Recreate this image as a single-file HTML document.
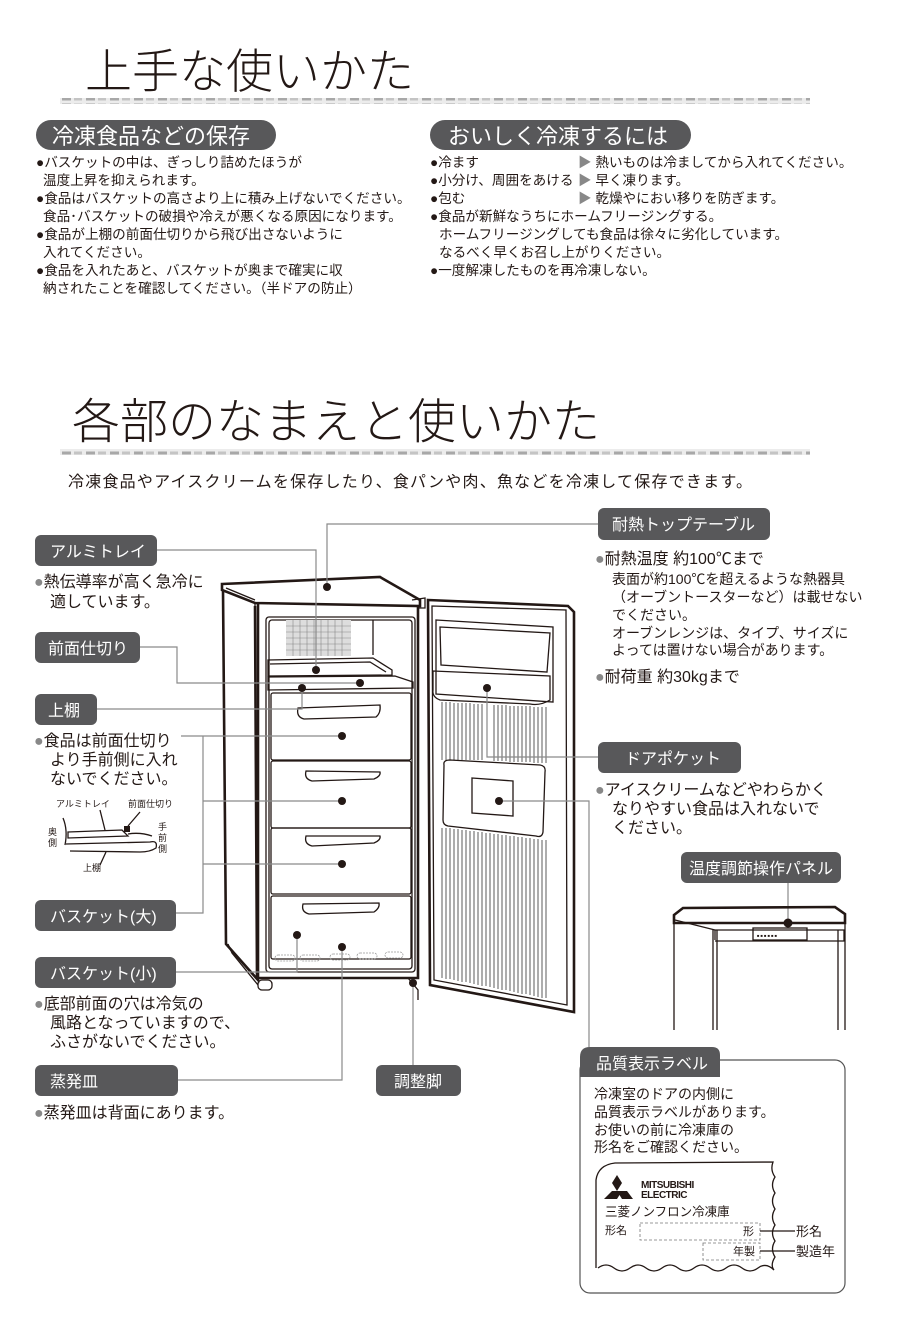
<!DOCTYPE html>
<html><head><meta charset="utf-8"><style>
html,body{margin:0;padding:0;background:#fff}
svg{display:block}
text{font-family:"Liberation Sans","Noto Sans CJK JP",sans-serif;fill:#231815}
.w{fill:#fff}
.p{fill:#58585a}
.ln{stroke:#8a8a8a;stroke-width:1.2;fill:none}
.k{stroke:#231815;fill:none;stroke-width:1.3}
.kb{stroke:#231815;fill:none;stroke-width:2.6}
</style></head><body>
<svg width="900" height="1331" viewBox="0 0 900 1331" xmlns="http://www.w3.org/2000/svg">
<defs>
<pattern id="dash" x="60" y="0" width="24" height="6" patternUnits="userSpaceOnUse">
<rect x="0" y="0" width="24" height="6" fill="#ececec"/><rect x="2" y="1.5" width="9" height="3" fill="#a8a8a8"/><rect x="14" y="1.5" width="8" height="3" fill="#c4c4c4"/></pattern>
</defs>

<!-- Title 1 -->
<text x="85" y="88" font-size="47" font-weight="300">上手な使いかた</text>
<rect x="60" y="98" width="750" height="6" fill="url(#dash)"/>

<rect x="36" y="120" width="240" height="30" rx="15" class="p"/>
<text x="52" y="144" font-size="22" class="w">冷凍食品などの保存</text>
<rect x="430" y="120" width="261" height="30" rx="15" class="p"/>
<text x="448" y="144" font-size="22" class="w">おいしく冷凍するには</text>

<g font-size="13.6">
<text x="36" y="167">●バスケットの中は、ぎっしり詰めたほうが</text>
<text x="43" y="185">温度上昇を抑えられます。</text>
<text x="36" y="203">●食品はバスケットの高さより上に積み上げないでください。</text>
<text x="43" y="221">食品･バスケットの破損や冷えが悪くなる原因になります。</text>
<text x="36" y="239">●食品が上棚の前面仕切りから飛び出さないように</text>
<text x="43" y="257">入れてください。</text>
<text x="36" y="275">●食品を入れたあと、バスケットが奥まで確実に収</text>
<text x="43" y="293">納されたことを確認してください。（半ドアの防止）</text>

<text x="430" y="167">●冷ます</text>
<text x="578" y="167"><tspan fill="#888">▶</tspan> 熱いものは冷ましてから入れてください。</text>
<text x="430" y="185">●小分け、周囲をあける</text>
<text x="578" y="185"><tspan fill="#888">▶</tspan> 早く凍ります。</text>
<text x="430" y="203">●包む</text>
<text x="578" y="203"><tspan fill="#888">▶</tspan> 乾燥やにおい移りを防ぎます。</text>
<text x="430" y="221">●食品が新鮮なうちにホームフリージングする。</text>
<text x="439" y="239">ホームフリージングしても食品は徐々に劣化しています。</text>
<text x="439" y="257">なるべく早くお召し上がりください。</text>
<text x="430" y="275">●一度解凍したものを再冷凍しない。</text>
</g>

<!-- Title 2 -->
<text x="72" y="438" font-size="48" font-weight="300">各部のなまえと使いかた</text>
<rect x="60" y="449" width="750" height="6" fill="url(#dash)"/>
<text x="68" y="487" font-size="16" textLength="684" lengthAdjust="spacing">冷凍食品やアイスクリームを保存したり、食パンや肉、魚などを冷凍して保存できます。</text>

<!-- FREEZER DRAWING -->
<g>
<path class="kb" d="M222,584 L380,577 L420,600 L420,606 L255,603 L222,590 Z" fill="#fff"/>
<path class="k" d="M226,588 L255,600 M255,603 L255,608"/>
<path class="kb" d="M223,590 L226,944 L258,980 L258,603"/>
<path class="kb" d="M255,606 L257,978 L418,978 L418,606"/>
<path class="k" d="M228,944 L232,953 L258,985"/>
<rect x="258" y="980" width="14" height="10" rx="4" class="k" fill="#fff"/>
<rect x="266" y="617" width="149" height="355" rx="3" class="k"/>
<rect x="269" y="620" width="143" height="349" rx="3" class="k" stroke-width="0.8"/>
<rect x="286" y="620" width="65" height="36" fill="#ddd"/>
<g stroke="#888" stroke-width="0.6">
<path d="M286,626H351M286,632H351M286,638H351M286,644H351M286,650H351"/>
<path d="M293,620V656M300,620V656M307,620V656M314,620V656M321,620V656M328,620V656M335,620V656M342,620V656"/>
</g>
<path class="k" d="M373,620 L373,655"/>
<path class="k" d="M268,660 L373,658 L392,670 L392,675 L268,676 Z"/>
<path class="k" d="M270,664 L370,662 L386,672"/>
<path class="k" d="M268,677 L395,676 L413,682 L413,688 L268,690 Z" fill="#fff"/>
<g class="k">
<rect x="271" y="693" width="140" height="67" rx="2"/>
<rect x="271" y="761" width="140" height="67" rx="2"/>
<rect x="271" y="828" width="140" height="66" rx="2"/>
<rect x="271" y="896" width="140" height="63" rx="2"/>
<path d="M298,708 Q296,717 304,719 L376,717 Q381,713 380,705 Z"/>
<path d="M306,771 Q304,779 312,781 L374,779 Q381,776 380,772 Z"/>
<path d="M306,836 Q304,844 312,846 L374,843 Q381,840 380,836 Z"/>
<path d="M303,904 Q301,912 309,914 L374,912 Q380,908 379,903 Z"/>
</g>
<g stroke="#999" stroke-width="0.8" fill="none" stroke-dasharray="2,1">
<rect x="275" y="955" width="20" height="6" rx="3"/><rect x="300" y="955" width="20" height="6" rx="3"/><rect x="330" y="954" width="20" height="6" rx="3"/><rect x="357" y="953" width="20" height="6" rx="3"/><rect x="385" y="952" width="18" height="6" rx="3"/>
</g>
<path class="k" d="M412,600 L425,598 L425,608 L418,608"/>
<path class="kb" d="M428,600 L568,606 L574,612 L574,1012 L430,985 Z" fill="#fff"/>
<path class="k" d="M432,606 L566,610 L567,1005 L434,980 Z"/>
<path class="k" d="M436,620 L553,627 L553,702 L436,694 Z"/>
<path class="k" d="M440,627 L550,633 L547,672 L441,665 Z"/>
<path class="k" d="M433,671 L550,676 L550,700 Q540,706 530,704 L440,700 Q432,697 433,690 Z" fill="#fff"/>
<g stroke="#333" stroke-width="0.8">
<path d="M442,702V760M446,702V760M450,702V760M454,703V760M458,703V760M462,703V760M466,703V760M470,703V760M474,704V760M478,704V760M482,704V760M494,705V761M498,705V761M502,705V761M506,705V761M510,706V762M514,706V762M518,706V762M522,706V762M526,706V762M530,706V762M534,707V763M538,707V763M542,707V763M546,707V763"/>
<path d="M442,828V978M446,828V979M450,828V979M454,829V980M458,829V981M462,830V982M466,830V982M470,831V983M474,831V984M478,832V985M482,832V986M486,833V986M490,833V987M494,834V988M498,834V989M502,835V990M506,835V990M510,836V991M514,836V992M518,837V993M522,837V994M526,838V994M530,838V995M534,839V996M538,839V997M542,840V998M546,840V998"/>
</g>
<path class="k" d="M444,765 Q443,760 450,760 L540,765 Q546,766 545,772 L543,832 Q542,838 536,836 L448,826 Q443,825 443,820 Z" fill="#fff"/>
<path class="k" d="M472,778 L513,781 L513,816 L472,813 Z" stroke-width="0.8"/>
<path class="k" d="M408,978 L418,990 L418,1000"/>
</g>

<g class="ln">
<path d="M157,550 H316 V670"/>
<path d="M598,524 H327 V587"/>
<path d="M140,647 H177 V683 H360"/>
<path d="M97,709 H302 V688"/>
<path d="M181,736 H203 V913 H176 M203,736 H342 M203,801 H342 M203,864 H342"/>
<path d="M176,972 H297 V935"/>
<path d="M178,1080 H342 V947"/>
<path d="M413,1065 V983"/>
<path d="M598,757 H487 V688"/>
<path d="M499,801 H589 V1047"/>
<path d="M788,883 V923"/>
</g>
<g fill="#231815">
<circle cx="316" cy="670" r="4"/><circle cx="360" cy="683" r="4"/><circle cx="302" cy="688" r="4"/><circle cx="327" cy="587" r="4"/>
<circle cx="342" cy="736" r="4"/><circle cx="342" cy="801" r="4"/><circle cx="342" cy="864" r="4"/>
<circle cx="297" cy="935" r="4"/><circle cx="342" cy="947" r="4"/><circle cx="413" cy="983" r="4"/>
<circle cx="487" cy="688" r="4"/><circle cx="499" cy="801" r="4"/><circle cx="788" cy="923" r="4.5"/>
</g>

<g font-size="16">
<rect x="35" y="535" width="122" height="31" rx="6" class="p"/><text x="50" y="557" class="w">アルミトレイ</text>
<rect x="35" y="632" width="105" height="31" rx="6" class="p"/><text x="48" y="654" class="w">前面仕切り</text>
<rect x="35" y="694" width="62" height="31" rx="6" class="p"/><text x="48" y="716" class="w">上棚</text>
<rect x="35" y="900" width="141" height="31" rx="6" class="p"/><text x="50" y="922" class="w">バスケット(大)</text>
<rect x="35" y="957" width="141" height="31" rx="6" class="p"/><text x="50" y="979" class="w">バスケット(小)</text>
<rect x="35" y="1065" width="143" height="31" rx="6" class="p"/><text x="50" y="1087" class="w">蒸発皿</text>
<rect x="376" y="1065" width="85" height="31" rx="6" class="p"/><text x="394" y="1087" class="w">調整脚</text>
<rect x="598" y="508" width="172" height="32" rx="6" class="p"/><text x="612" y="530" class="w">耐熱トップテーブル</text>
<rect x="598" y="742" width="143" height="31" rx="6" class="p"/><text x="625" y="764" class="w">ドアポケット</text>
<rect x="681" y="852" width="160" height="31" rx="6" class="p"/><text x="689" y="874" class="w">温度調節操作パネル</text>

<text x="34" y="587"><tspan fill="#888">●</tspan>熱伝導率が高く急冷に</text>
<text x="50" y="607">適しています。</text>
<text x="34" y="746"><tspan fill="#888">●</tspan>食品は前面仕切り</text>
<text x="50" y="765">より手前側に入れ</text>
<text x="50" y="784">ないでください。</text>
<text x="34" y="1009"><tspan fill="#888">●</tspan>底部前面の穴は冷気の</text>
<text x="50" y="1028">風路となっていますので、</text>
<text x="50" y="1047">ふさがないでください。</text>
<text x="34" y="1118"><tspan fill="#888">●</tspan>蒸発皿は背面にあります。</text>

<text x="595" y="564"><tspan fill="#888">●</tspan>耐熱温度 約100℃まで</text>
<text x="595" y="682"><tspan fill="#888">●</tspan>耐荷重 約30kgまで</text>
<text x="595" y="795"><tspan fill="#888">●</tspan>アイスクリームなどやわらかく</text>
<text x="612" y="814">なりやすい食品は入れないで</text>
<text x="612" y="833">ください。</text>
</g>
<g font-size="14">
<text x="612" y="584">表面が約100℃を超えるような熱器具</text>
<text x="612" y="602">（オーブントースターなど）は載せない</text>
<text x="612" y="620">でください。</text>
<text x="612" y="638">オーブンレンジは、タイプ、サイズに</text>
<text x="612" y="655">よっては置けない場合があります。</text>
</g>

<g font-size="9">
<text x="56" y="807">アルミトレイ</text>
<text x="128" y="807">前面仕切り</text>
<text x="83" y="871">上棚</text>
<text x="48" y="835">奥</text><text x="48" y="846">側</text>
<text x="158" y="830">手</text><text x="158" y="841">前</text><text x="158" y="852">側</text>
</g>
<g class="k" stroke-width="1">
<path d="M63,818 Q68,830 65,845"/>
<path d="M68,832 L122,830 L128,836 L68,838 Z"/>
<path d="M66,844 L150,842 Q158,840 156,848 Q150,852 140,852 L70,851"/>
<path d="M128,834 Q140,832 152,836"/>
<path d="M100,810 L105,830 M140,812 L128,826 M100,865 L106,852"/>
</g>
<rect x="124" y="826" width="6" height="6" fill="#231815"/>

<g>
<path class="kb" d="M674,915 L683,908 L835,907 L845,914 L845,923 L674,923 Z" fill="#fff"/>
<path class="k" d="M674,923 L674,1030 M845,923 L845,1030 M713,930 V1030 M717,930 V1030 M838,930 V1030"/>
<path class="k" d="M675,920 L715,930 L845,930 M715,930 L715,940 M844,930 V941 L715,941"/>
<rect x="753" y="928" width="54" height="12" class="k" stroke-width="0.7"/>
<text x="757" y="937" font-size="4">■ ■ ■ ■ ■ ■</text>
</g>

<rect x="580" y="1060" width="265" height="233" rx="10" fill="#fff" stroke="#555" stroke-width="1.2"/>
<path d="M580,1077 V1057 Q580,1047 590,1047 H712 Q720,1047 720,1055 V1077 Z" class="p"/>
<text x="596" y="1069" font-size="16" class="w">品質表示ラベル</text>
<g font-size="14">
<text x="594" y="1099">冷凍室のドアの内側に</text>
<text x="594" y="1117">品質表示ラベルがあります。</text>
<text x="594" y="1135">お使いの前に冷凍庫の</text>
<text x="594" y="1152">形名をご確認ください。</text>
</g>
<path class="k" d="M596,1268 V1180 Q598,1165 615,1163 L773,1162 Q770,1170 775,1177 Q770,1185 775,1193 Q770,1201 775,1209 Q770,1217 775,1225 Q770,1233 775,1241 Q770,1249 775,1257 Q770,1265 774,1270 Q766,1262 758,1268 Q750,1274 742,1268 Q734,1262 726,1268 Q718,1274 710,1268 Q702,1262 694,1268 Q686,1274 678,1268 Q670,1262 662,1268 Q654,1274 646,1268 Q638,1262 630,1268 Q622,1274 614,1268 Q606,1262 598,1268"/>
<g fill="#231815">
<path d="M617,1175 L622,1183 L617,1191 L612,1183 Z"/>
<path d="M612,1191 L622,1191 L617,1199 L604,1199 Z"/>
<path d="M617,1191 L627,1191 L633,1199 L622,1199 Z"/>
</g>
<text x="641" y="1188" font-size="10" font-weight="bold" letter-spacing="-0.5">MITSUBISHI</text>
<text x="641" y="1198" font-size="10" font-weight="bold" letter-spacing="-0.5">ELECTRIC</text>
<text x="605" y="1216" font-size="12.5">三菱ノンフロン冷凍庫</text>
<text x="605" y="1234" font-size="11">形名</text>
<rect x="640" y="1223" width="120" height="17" fill="none" stroke="#777" stroke-dasharray="3,2" stroke-width="0.8"/>
<text x="743" y="1235" font-size="11">形</text>
<rect x="703" y="1243" width="57" height="17" fill="none" stroke="#777" stroke-dasharray="3,2" stroke-width="0.8"/>
<text x="733" y="1255" font-size="11">年製</text>
<path class="k" d="M760,1231 H795 M760,1251 H795" stroke-width="1"/>
<text x="796" y="1236" font-size="13">形名</text>
<text x="796" y="1256" font-size="13">製造年</text>
</svg>
</body></html>
